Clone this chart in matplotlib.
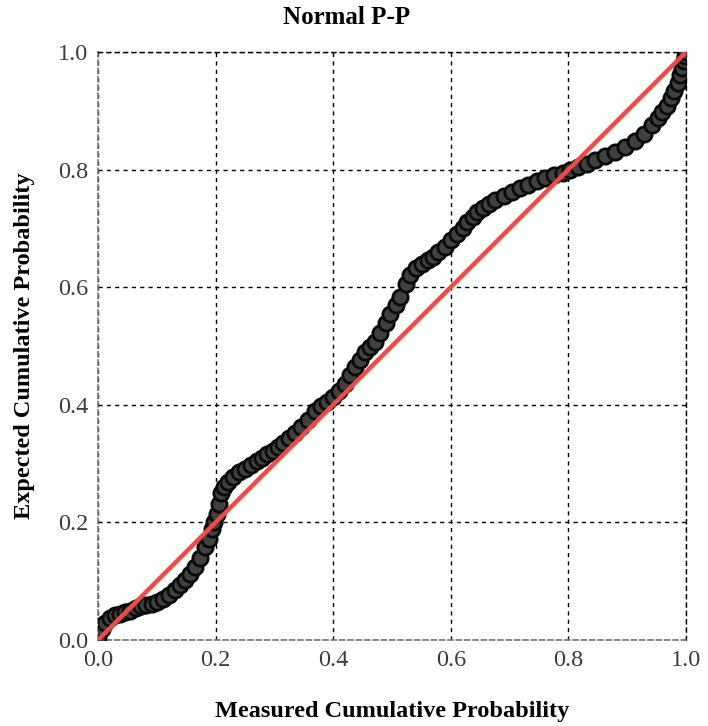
import matplotlib
matplotlib.use('Agg')
import matplotlib.pyplot as plt

# points (measured, expected)
measured = [0.0, 0.006, 0.012, 0.02, 0.029, 0.038, 0.046, 0.055, 0.064, 0.073,
            0.082, 0.091, 0.1, 0.11, 0.12, 0.131, 0.14, 0.148, 0.157, 0.165,
            0.173, 0.182, 0.188, 0.194, 0.198, 0.202, 0.206, 0.21, 0.215, 0.221,
            0.23, 0.24, 0.25, 0.26, 0.27, 0.279, 0.288, 0.297, 0.306, 0.315,
            0.325, 0.335, 0.345, 0.357, 0.369, 0.38, 0.39, 0.4, 0.41, 0.42,
            0.429, 0.437, 0.446, 0.454, 0.462, 0.471, 0.48, 0.489, 0.497, 0.506,
            0.514, 0.523, 0.531, 0.54, 0.551, 0.562, 0.57, 0.579, 0.59, 0.6,
            0.61, 0.62, 0.628, 0.637, 0.645, 0.654, 0.665, 0.676, 0.69, 0.704,
            0.718, 0.732, 0.746, 0.76, 0.775, 0.79, 0.803, 0.817, 0.831, 0.846,
            0.863, 0.88, 0.897, 0.914, 0.929, 0.943, 0.952, 0.96, 0.967, 0.974,
            0.98, 0.986, 0.99, 0.993, 0.996, 0.998, 1.0]
expected = [0.003, 0.018, 0.029, 0.037, 0.043, 0.045, 0.047, 0.05, 0.054, 0.057,
            0.059, 0.061, 0.064, 0.07, 0.077, 0.085, 0.093, 0.102, 0.112, 0.124,
            0.14, 0.158, 0.172, 0.188, 0.2, 0.214, 0.232, 0.25, 0.26, 0.269,
            0.278, 0.285, 0.291, 0.297, 0.304, 0.31, 0.316, 0.322, 0.328, 0.335,
            0.343, 0.352, 0.362, 0.375, 0.389, 0.398, 0.405, 0.413, 0.423, 0.436,
            0.45, 0.464, 0.477, 0.49, 0.498, 0.507, 0.522, 0.539, 0.555, 0.57,
            0.584, 0.605, 0.621, 0.632, 0.64, 0.646, 0.652, 0.66, 0.669, 0.68,
            0.69, 0.7, 0.711, 0.72, 0.728, 0.735, 0.741, 0.748, 0.755, 0.762,
            0.768, 0.774, 0.78, 0.786, 0.79, 0.794, 0.799, 0.804, 0.809, 0.816,
            0.823, 0.83, 0.838, 0.849, 0.861, 0.876, 0.887, 0.898, 0.909, 0.921,
            0.934, 0.948, 0.961, 0.973, 0.985, 0.994, 1.0]
ref_line = [0.0, 1.0]
ticks = [0.0, 0.2, 0.4, 0.6, 0.8, 1.0]

plt.rcParams['font.family'] = ['Liberation Serif', 'DejaVu Serif']

fig = plt.figure(figsize=(7.08, 7.26), dpi=100)
ax = fig.add_axes([98 / 708, 86 / 726, 588 / 708, 588 / 726])

ax.plot(measured, expected, 'o', ms=11, mfc='#404040', mec='#0a0a0a',
        mew=2.0, zorder=3)
ax.plot(ref_line, ref_line, '-', color='#ec4b4b', lw=3.2, zorder=4,
        solid_capstyle='butt')

ax.set_xlim(0, 1)
ax.set_ylim(0, 1)
ax.set_xticks(ticks)
ax.set_yticks(ticks)
ax.set_xticklabels(['%.1f' % t for t in ticks])
ax.set_yticklabels(['%.1f' % t for t in ticks])
ax.tick_params(length=0, labelsize=17.5, colors='#3c3c3c', pad=7)
ax.grid(True, color='black', ls=(0, (3, 3)), lw=1)

for side in ['left', 'bottom']:
    ax.spines[side].set_color('#777777')
    ax.spines[side].set_linestyle((0, (3, 2)))
    ax.spines[side].set_linewidth(1.2)
for side in ['top', 'right']:
    ax.spines[side].set_color('black')
    ax.spines[side].set_linestyle((0, (3, 3)))
    ax.spines[side].set_linewidth(1)

fig.text(347 / 708, 1 - 17 / 726, 'Normal P-P', ha='center', va='center',
         fontsize=18, fontweight='bold')
fig.text(392 / 708, 1 - 712 / 726, 'Measured Cumulative Probability',
         ha='center', va='center', fontsize=17.5, fontweight='bold')
fig.text(25 / 708, 1 - 346 / 726, 'Expected Cumulative Probability',
         ha='center', va='center', rotation=90, fontsize=17.5, fontweight='bold')

fig.savefig('out.png', dpi=100)
